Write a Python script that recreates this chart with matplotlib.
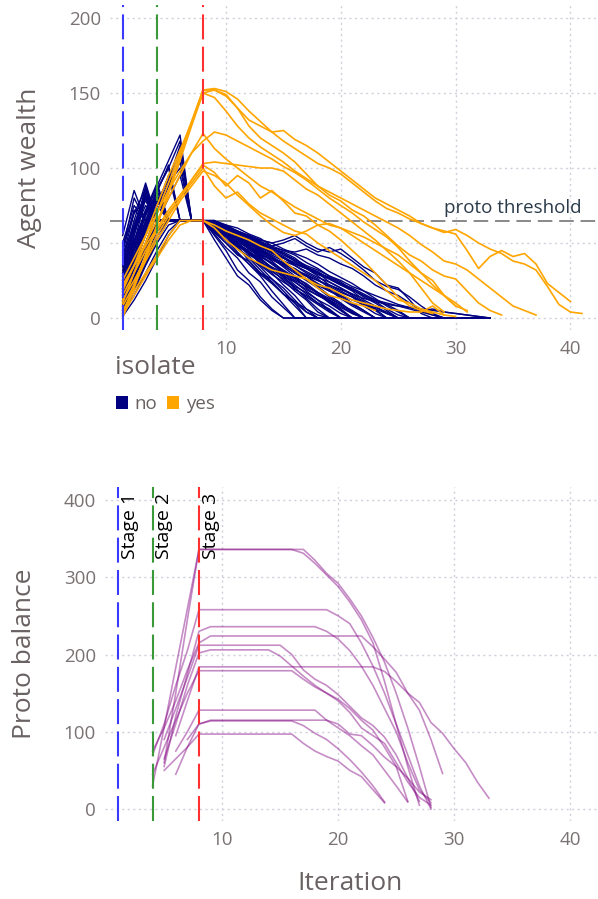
import matplotlib
matplotlib.use('Agg')
import matplotlib.pyplot as plt
from matplotlib.patches import Patch

plt.rcParams['font.family'] = ['Open Sans', 'DejaVu Sans']

# ---------------- data: top panel (agent wealth per iteration, from iteration 1) -------------
blue_lines = [
    [22,55,88,65,65,65,65,65,55,45,32,25,14,6,0,0,0,0,0,0,0,0,0,0],
    [10,40,70,80,65,65,65,65,52,40,28,22,12,5,0,0,0,0,0,0],
    [35,60,85,65,65,65,65,65,60,52,44,36,28,18,9,0,0,0,0,0,0,0,0,0,0,0,0,0,0,0],
    [5,25,45,65,65,65,65,65,62,55,47,40,32,24,16,8,0,0,0,0,0,0],
    [15,35,55,75,95,65,65,65,58,52,48,38,30,26,18,10,0,0,0,0,0,0,0,0,0,0,0,0,0,0,0,0,0],
    [40,70,78,65,65,65,65,65,63,58,50,44,36,30,22,15,6,0,0,0,0,0,0,0,0,0,0],
    [28,50,72,90,65,65,65,65,60,54,46,41,34,26,20,12,4,0,0,0,0,0,0,0,0],
    [2,20,38,55,65,65,65,65,64,58,53,46,40,33,28,20,13,6,0,0,0,0,0,0,0,0,0,0,0,0,0],
    [50,75,65,65,65,65,65,65,61,56,49,45,37,32,25,18,12,4,0,0,0,0,0],
    [18,45,70,88,105,122,65,65,63,60,55,48,42,36,30,24,18,12,5,0,0,0,0,0,0,0,0,0,0],
    [8,30,50,70,90,110,65,65,59,55,50,44,40,33,29,22,16,10,6,0,0,0,0,0,0,0,0,0,0,0,0,0,0],
    [30,55,80,65,65,65,65,65,64,60,56,50,45,40,34,28,22,16,10,5,0,0,0,0,0,0],
    [12,28,45,60,65,65,65,65,62,57,52,47,43,38,31,27,20,15,12,6,0,0,0,0,0,0,0,0],
    [45,80,65,65,65,65,65,65,65,61,57,54,48,44,38,32,26,21,15,10,4,0,0,0,0,0,0,0,0,0,0,0,0],
    [25,45,65,85,100,65,65,65,60,56,53,48,42,39,35,30,25,20,14,9,5,0,0,0,0,0,0,0,0,0],
    [6,22,40,58,65,65,65,65,63,59,55,52,47,43,40,35,30,26,20,15,10,5,0,0,0,0,0],
    [38,65,90,65,65,65,65,65,61,58,54,49,46,41,36,33,28,23,19,13,8,4,0,0,0,0,0,0,0,0,0,0],
    [20,40,60,75,90,100,65,65,64,62,58,55,50,47,43,38,34,30,24,20,15,10,5,0,0,0,0,0,0],
    [3,18,35,50,62,65,65,65,62,59,56,52,49,45,41,36,33,28,22,18,14,8,3,0,0,0,0,0,0,0,0,0,0],
    [32,58,75,65,65,65,65,65,65,62,60,56,53,48,45,42,37,33,28,24,19,14,10,5,0,0,0,0,0,0,0],
    [14,35,58,80,65,65,65,65,63,60,57,55,51,46,44,40,34,31,26,22,18,12,8,3,0,0,0,0],
    [55,85,65,65,65,65,65,65,64,61,58,55,52,50,46,43,40,36,31,27,23,18,13,8,4,0,0,0,0,0,0,0,0],
    [26,48,68,85,65,65,65,65,63,60,57,55,52,50,52,55,50,46,44,46,40,34,30,22,20,12,3,0,0,0,0,0,0],
    [9,28,48,65,65,65,65,65,62,59,57,54,51,48,50,53,48,44,47,43,38,32,25,21,19,14,8,3,0,0,0,0,0],
    [42,62,82,65,65,65,65,65,64,61,58,54,50,47,45,44,46,42,40,36,33,28,22,18,15,10,5,2,0,0,0,0,0],
    [16,38,60,78,92,115,65,65,60,58,54,50,47,44,40,37,33,30,27,23,20,16,12,9,5,0,0,0,0,0],
    [4,15,30,45,58,65,65,65,63,60,56,52,48,44,40,36,33,29,26,22,19,15,12,10,8,6,4,2,0,0,0,0,0],
    [30,52,70,88,65,65,65,65,61,57,53,48,44,40,36,32,28,25,22,19,16,13,11,9,8,7,6,5,4,3,2,1,0],
    [20,50,80,65,65,65,65,65,57,50,42,38,30,24,16,11,6,2,0,0,0,0,0,0],
    [12,35,60,82,65,65,65,65,62,55,49,42,38,31,26,20,14,9,4,0,0],
    [48,70,86,65,65,65,65,65,58,54,49,43,39,34,30,25,21,17,12,8,3,0,0,0,0],
    [7,26,45,64,80,95,65,65,56,47,40,30,24,14,7,0,0,0,0],
    [24,42,62,78,65,65,65,65,64,58,55,50,44,40,37,31,28,22,18,14,9,5,0,0,0,0],
    [36,62,84,65,65,65,65,65,63,59,55,51,46,42,38,35,31,27,24,20,16,11,6,0,0,0,0,0,0,0,0,0,0],
    [1,12,25,40,55,65,65,65,61,56,51,46,41,37,32,27,23,17,11,5,0,0,0,0,0,0,0,0],
    [18,40,62,84,102,65,65,65,64,61,57,54,50,46,43,39,35,32,28,25,21,18,15,12,9,7,5,6,4,3,2,1,0],
    [28,60,82,65,65,65,65,65,60,55,50,44,39,33,28,24,19,15,11,7,3,0,0,0,0,0],
    [11,33,56,75,65,65,65,65,62,56,51,47,41,36,31,26,21,17,13,9,4,0,0,0,0,0,0,0,0,0,0,0,0],
    [44,72,65,65,65,65,65,65,59,52,46,40,35,29,24,19,15,10,5,0,0,0],
    [19,42,64,86,100,118,65,65,63,59,54,49,45,41,36,32,29,25,21,17,14,10,7,4,0,0,0,0,0,0,0],
    [5,20,36,52,65,65,65,65,61,55,48,43,37,33,27,21,17,12,8,3,0,0,0,0,0,0,0],
    [34,58,80,65,65,65,65,65,64,60,57,53,49,46,42,38,34,30,27,23,19,15,11,6,2,0,0,0,0,0,0,0,0],
    [23,47,72,65,65,65,65,65,58,50,43,36,29,23,16,10,4,0,0,0,0,0,0],
    [14,30,50,70,88,104,65,65,62,58,53,48,43,39,35,30,26,22,18,15,12,9,6,3,0,0,0,0,0],
]

orange_lines = [
    [3,22,42,62,85,108,130,152,153,151,146,138,131,124,118,113,108,103,100,96,90,84,78,73,70,66,63,60,57,59,55,50,46,43,38,36,32,21,9,4,3],
    [10,30,50,70,90,110,131,152,152,148,140,132,128,124,125,119,115,110,104,98,92,86,80,76,72,68,63,60,58,56,45,33,41,45,41,43,36,23,17,11],
    [0,20,40,62,83,105,128,150,147,138,128,120,114,109,104,98,93,88,84,80,76,72,68,64,60,55,49,44,38,36,32,26,20,14,8,5,2],
    [18,35,55,75,95,112,130,150,152,149,140,128,120,115,110,104,96,88,82,78,72,68,62,55,48,42,38,32,28,26,18,10,5,2],
    [20,35,50,65,80,95,110,123,113,106,100,94,88,84,79,74,70,66,62,60,55,50,45,40,35,30,25,20,15,10,4],
    [25,40,55,70,85,98,110,118,124,122,118,114,110,106,101,97,92,86,80,75,70,64,59,54,47,38,30,22,15,8],
    [22,35,48,60,72,82,92,103,104,103,102,101,100,100,98,92,86,82,76,70,64,58,52,45,38,30,20,10,4],
    [15,30,45,58,70,80,92,102,97,88,95,90,80,85,78,70,68,62,58,52,45,38,30,22,14,8,5,3],
    [12,25,40,55,68,80,90,100,88,80,84,76,70,66,62,58,56,50,45,40,35,30,25,18,12,10,6,4,2],
    [8,22,38,52,65,78,88,98,95,90,82,75,68,62,57,55,58,62,63,60,57,54,50,46,42,36,30,25,15,8,5],
    [5,18,30,42,55,65,65,65,62,58,55,52,48,45,38,32,26,20,15,13,10,8,5],
    [2,15,28,40,52,62,65,65,60,52,46,40,36,32,30,28,26,22,20,16,12,10,8,6,5,4,4,8,2,1],
]

isolate_labels = ['no', 'yes']
proto_threshold = 65

# ---------------- data: bottom panel (proto balance) ----------------
purple_starts = [4, 5, 4, 5, 4, 5, 5, 6, 4, 6, 7, 6, 5]
purple_lines = [
    [30,106,183,259,336,336,336,336,336,336,336,336,336,331,318,303,288,268,245,215,165,110,55,5],
    [60,150,245,336,336,336,336,336,336,336,336,336,336,322,305,292,272,250,222,190,150,105,55,2],
    [70,110,160,205,258,258,258,258,258,258,258,258,258,258,258,258,250,240,215,185,150,110,70,30,0],
    [55,120,175,230,236,236,236,236,236,236,236,236,236,236,230,220,205,185,160,130,100,60,25,8],
    [75,105,140,180,215,224,224,224,224,224,224,224,224,224,224,224,224,224,224,210,194,177,150,138,112,98,78,60,35,14],
    [90,130,170,212,212,212,212,212,212,212,212,200,180,168,160,148,133,118,108,93,70,40,10],
    [65,110,160,202,206,206,206,206,206,206,198,185,172,160,150,140,125,105,95,85,60,35,15,5],
    [95,140,184,184,184,184,184,184,184,184,184,184,184,184,184,184,184,184,178,165,150,128,90,46],
    [45,80,115,150,179,179,179,179,179,179,179,179,179,168,158,150,142,130,115,102,80,55,10],
    [75,100,128,128,128,128,128,128,128,128,128,128,128,115,105,95,82,70,50,30,9],
    [90,110,114,114,114,114,114,114,114,114,108,98,90,78,64,48,30,9],
    [45,80,110,115,115,115,115,115,115,115,115,115,115,115,110,97,95,82,67,55,40,22,12],
    [50,65,80,97,97,97,97,97,97,97,97,97,85,75,68,62,50,42,25,8],
]

stage_iters = [1, 4, 8]
stage_names = ['Stage 1', 'Stage 2', 'Stage 3']
stage_colors = ['#3a3aff', '#3a9a3a', '#ff3030']

x_ticks = [10, 20, 30, 40]
y_ticks_top = [0, 50, 100, 150, 200]
y_ticks_bottom = [0, 100, 200, 300, 400]

# ---------------- figure ----------------
W, H = 598, 899
fig = plt.figure(figsize=(W / 100, H / 100), dpi=100)
ax1 = fig.add_axes([110 / W, 1 - 330 / H, 488 / W, 325 / H])
ax2 = fig.add_axes([105 / W, 1 - 821 / H, 493 / W, 334 / H])

tick_col = '#7a7272'
title_col = '#6a6262'
grid_col = '#cfd0dc'

for ax in (ax1, ax2):
    for s in ax.spines.values():
        s.set_visible(False)
    ax.set_xlim(-0.1, 42.4)
    ax.set_xticks(x_ticks)
    ax.grid(True, color=grid_col, linestyle=(0, (1.5, 2.5)), linewidth=1.0)
    ax.set_axisbelow(True)
    ax.tick_params(length=0, labelsize=13.5, colors=tick_col, pad=7)
    ax.tick_params(axis='y', pad=6.5)

ax1.set_ylim(-8, 208.7)
ax1.set_yticks(y_ticks_top)
ax2.set_ylim(-15.5, 416.8)
ax2.set_yticks(y_ticks_bottom)

# top panel lines
for vals in blue_lines:
    ax1.plot(range(1, len(vals) + 1), vals, color='#000080', lw=1.0, zorder=2)
for vals in orange_lines:
    ax1.plot(range(1, len(vals) + 1), vals, color='#FFA500', lw=1.2, zorder=3)

ax1.axhline(proto_threshold, color='#888888', lw=1.4, ls=(0, (7.5, 3.5)), zorder=1.5)
ax1.text(41.0, proto_threshold + 2.5, 'proto threshold', ha='right', va='bottom',
         fontsize=13.5, color='#2a3a4a', zorder=5)

for xi, c in zip(stage_iters, stage_colors):
    ax1.axvline(xi, color=c, lw=1.5, ls=(0, (12, 3.5)), zorder=4)

# bottom panel lines
for s, vals in zip(purple_starts, purple_lines):
    ax2.plot(range(s, s + len(vals)), vals, color=(0.5, 0.0, 0.5, 0.45), lw=1.2, zorder=2)

for xi, c, name in zip(stage_iters, stage_colors, stage_names):
    ax2.axvline(xi, color=c, lw=1.5, ls=(0, (12, 3.5)), zorder=4)
    ax2.text(xi + 0.25, 409, name, rotation=90, ha='left', va='top',
             fontsize=14, color='black', zorder=5)

# titles
fig.text(30 / W, 1 - 168 / H, 'Agent wealth', rotation=90, ha='center', va='center',
         fontsize=19, color=title_col)
fig.text(25 / W, 1 - 654 / H, 'Proto balance', rotation=90, ha='center', va='center',
         fontsize=19, color=title_col)
fig.text(350 / W, 1 - 883 / H, 'Iteration', ha='center', va='center',
         fontsize=19, color=title_col)

# legend
fig.text(115 / W, 1 - 368 / H, 'isolate', ha='left', va='center', fontsize=19, color=title_col)
handles = [Patch(facecolor='#000080', edgecolor='none', label=isolate_labels[0]),
           Patch(facecolor='#FFA500', edgecolor='none', label=isolate_labels[1])]
leg = fig.legend(handles=handles, loc='center left', bbox_to_anchor=(116 / W, 1 - 404 / H),
                 ncol=2, frameon=False, fontsize=13.5, handlelength=0.65, handleheight=0.65,
                 handletextpad=0.35, columnspacing=0.5, borderpad=0, borderaxespad=0)
for t in leg.get_texts():
    t.set_color(title_col)

fig.savefig('out.png', dpi=100)
